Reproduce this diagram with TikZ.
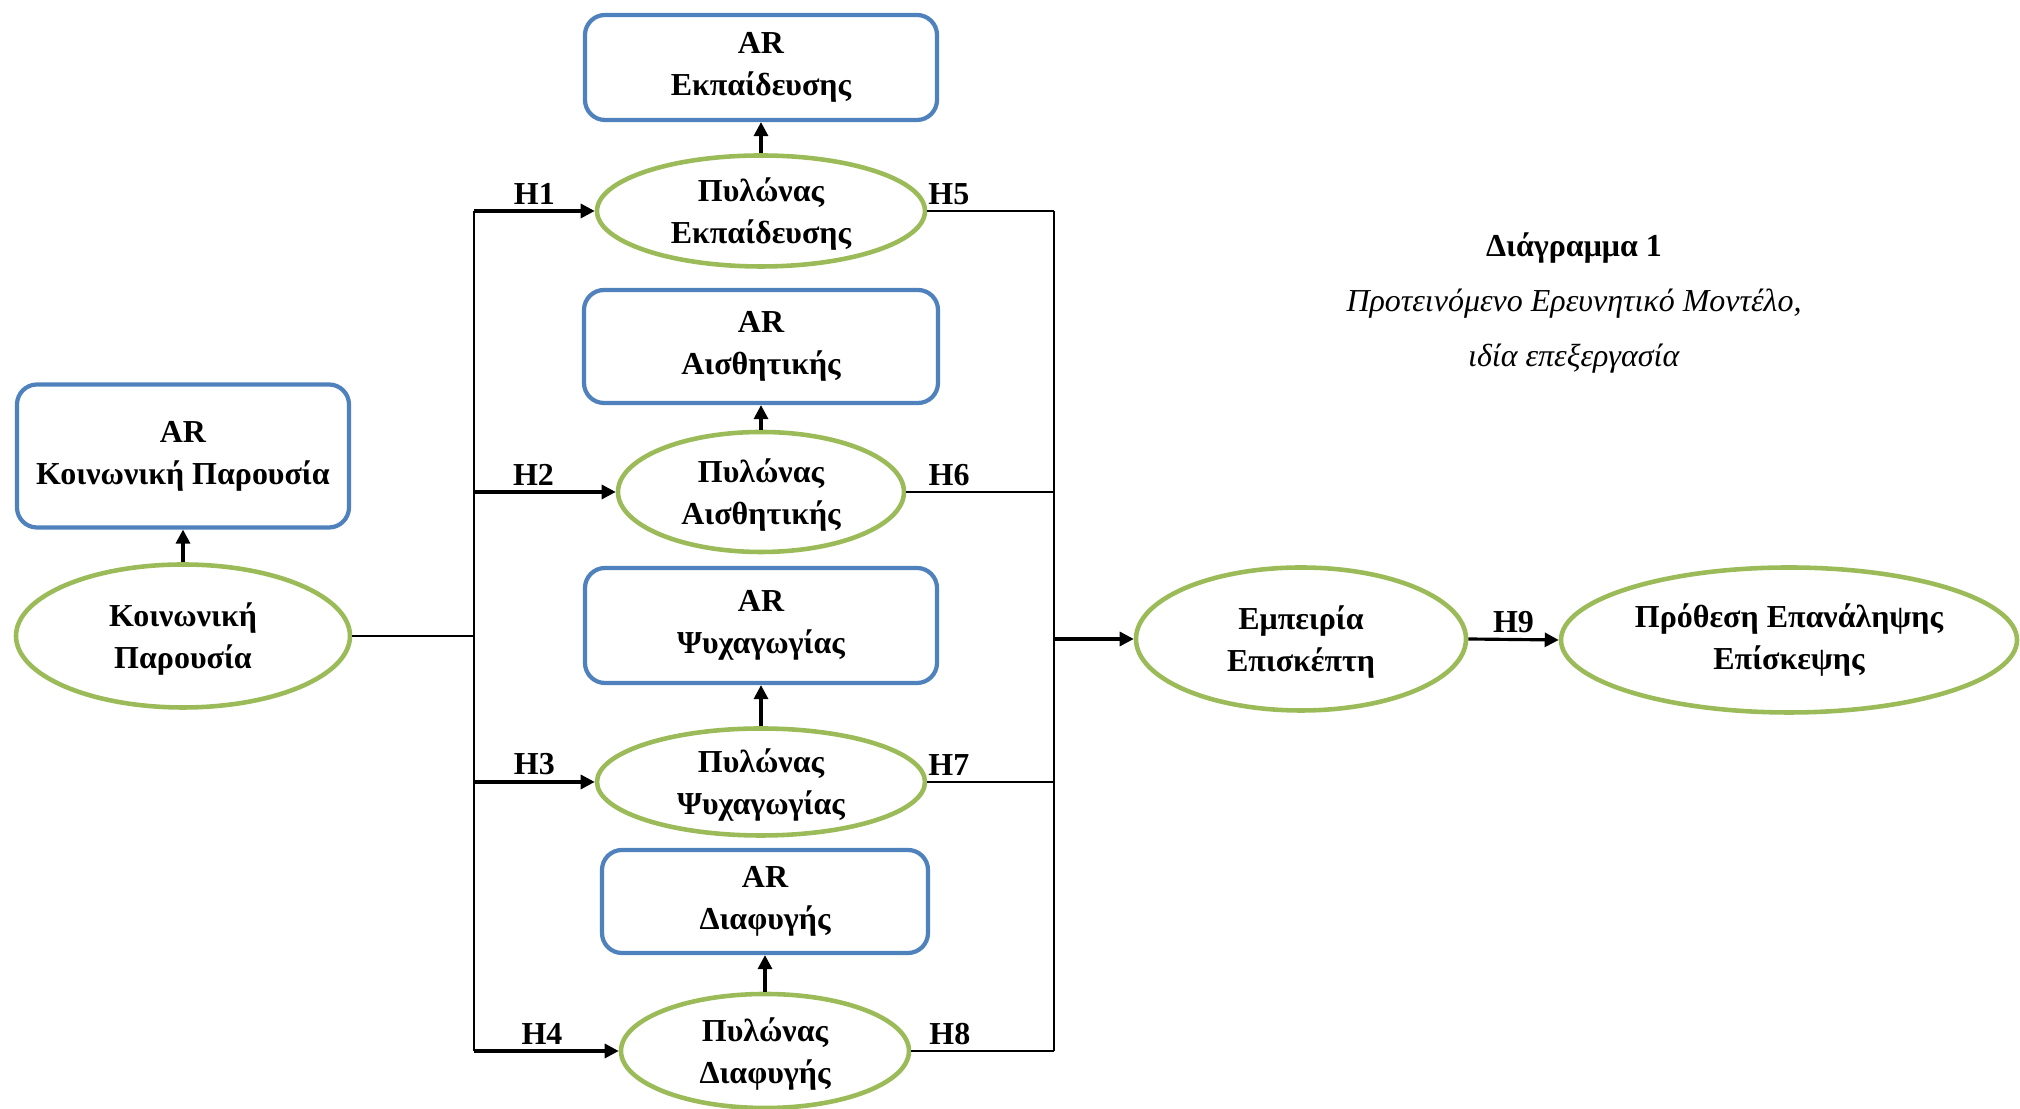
\documentclass[tikz,border=0pt]{standalone}
\usepackage{fontspec}
\setmainfont{Liberation Serif}
\usetikzlibrary{shapes.geometric,arrows.meta,positioning}
\definecolor{arblue}{RGB}{79,129,189}
\definecolor{pilgreen}{RGB}{155,187,89}

\begin{document}
\begin{tikzpicture}[x=1cm,y=1cm,
    every node/.style={font=\bfseries\fontsize{9.1}{12}\selectfont},
    arbox/.style={draw=arblue,line width=1.2pt,rounded corners=2mm,align=center,inner sep=0pt},
    pillar/.style={ellipse,draw=pilgreen,line width=1.3pt,align=center,inner sep=0pt,text depth=0pt},
    link/.style={line width=0.6pt},
    arr/.style={line width=0.9pt,-{Triangle[length=1.4mm,width=1.4mm]}},
    hlab/.style={above,inner sep=1.5pt}]
    \useasboundingbox (0,0) rectangle (20.2,11.09);

    % Social presence on the left
    \node[pillar,minimum width=3.34cm,minimum height=1.43cm] (kp) at (1.83,4.73) {Κοινωνική\\Παρουσία};
    \node[arbox,minimum width=3.32cm,minimum height=1.43cm] (kp-ar) at (1.83,6.53) {AR\\Κοινωνική Παρουσία};
    \draw[arr] (kp.north) -- (kp-ar.south);

    % The four pillars and their AR boxes
    \node[pillar,minimum width=3.28cm,minimum height=1.11cm] (edu) at (7.61,8.98) {Πυλώνας\\Εκπαίδευσης};
    \node[arbox,minimum width=3.52cm,minimum height=1.05cm] (edu-ar) at (7.61,10.415) {AR\\Εκπαίδευσης};
    \node[pillar,minimum width=2.86cm,minimum height=1.20cm] (aes) at (7.61,6.17) {Πυλώνας\\Αισθητικής};
    \node[arbox,minimum width=3.54cm,minimum height=1.13cm] (aes-ar) at (7.61,7.625) {AR\\Αισθητικής};
    \node[pillar,minimum width=3.28cm,minimum height=1.07cm] (ent) at (7.61,3.27) {Πυλώνας\\Ψυχαγωγίας};
    \node[arbox,minimum width=3.52cm,minimum height=1.15cm] (ent-ar) at (7.61,4.835) {AR\\Ψυχαγωγίας};
    \node[pillar,minimum width=2.88cm,minimum height=1.14cm] (esc) at (7.65,0.58) {Πυλώνας\\Διαφυγής};
    \node[arbox,minimum width=3.26cm,minimum height=1.03cm] (esc-ar) at (7.65,2.075) {AR\\Διαφυγής};

    % Outcome constructs
    \node[pillar,minimum width=3.30cm,minimum height=1.43cm] (emp) at (13.01,4.70) {Εμπειρία\\Επισκέπτη};
    \node[pillar,minimum width=4.56cm,minimum height=1.45cm,text depth=] (pro) at (17.89,4.69) {Πρόθεση Επανάληψης\\Επίσκεψης};

    % Caption
    \node[align=center,font=\mdseries\fontsize{9.1}{15.6}\selectfont] (cap) at (15.74,8.06)
      {\textbf{Διάγραμμα 1}\\\textit{Προτεινόμενο Ερευνητικό Μοντέλο,}\\\textit{ιδία επεξεργασία}};

    % Hypotheses H1--H8
    \foreach \p/\k/\y/\hl/\pl/\hr/\pr in {edu/1/8.98/1/0.5/5/0.17, aes/2/6.17/2/0.42/6/0.29,
        ent/3/3.27/3/0.5/7/0.17, esc/4/0.58/4/0.47/8/0.27} {
      \coordinate (l\k) at (4.74,\y);
      \coordinate (r\k) at (10.54,\y);
      \draw[arr] (l\k) -- node[hlab,pos=\pl] {H\hl} (\p.west);
      \draw[link] (\p.east) -- node[hlab,pos=\pr] {H\hr} (r\k);
      \draw[arr] (\p.north) -- (\p-ar.south);
    }
    \draw[link] (l1) -- (l4);
    \draw[link] (r1) -- (r4);

    \coordinate (lk) at (4.74,4.73);
    \coordinate (rk) at (10.54,4.70);
    \draw[link] (kp.east) -- (lk);
    \draw[arr] (rk) -- (emp.west);
    \draw[arr] (emp.east) -- node[hlab] {H9} (pro.west);
\end{tikzpicture}
\end{document}
